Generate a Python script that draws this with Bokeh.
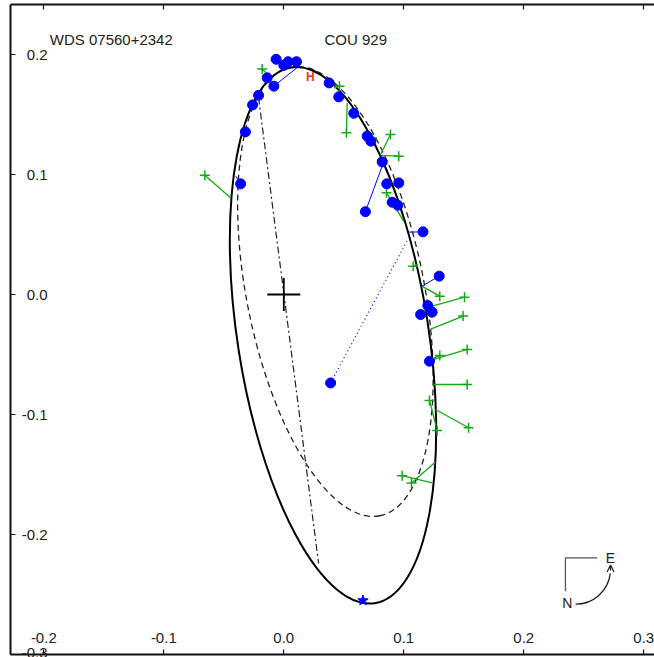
import math
from bokeh.plotting import figure
from bokeh.models import LinearAxis, FixedTicker, Arrow, OpenHead, CustomLabelingPolicy
from bokeh.embed import file_html
from bokeh.resources import INLINE
from bokeh.core.properties import value

# ---------------- axis setup ----------------
X_START, X_END = -0.22775, 0.30892
Y_START, Y_END = -0.3000, 0.24167
x_ticks = [-0.2, -0.1, 0.0, 0.1, 0.2, 0.3]
x_tick_labels = {-0.2: "-0.2", -0.1: "-0.1", 0.0: "0.0", 0.1: "0.1", 0.2: "0.2", 0.3: "0.3"}
y_ticks = [-0.3, -0.2, -0.1, 0.0, 0.1, 0.2]
y_tick_labels = {-0.3: "-0.3", -0.2: "-0.2", -0.1: "-0.1", 0.0: "0.0", 0.1: "0.1", 0.2: "0.2"}

title_left = "WDS 07560+2342"
title_right = "COU 929"

# ---------------- orbit models ----------------
orbit_cx, orbit_cy = 0.041, -0.034
orbit_major, orbit_minor = 0.4518, 0.1592
orbit_angle_deg = -81.15
prev_cx, prev_cy = 0.043, 0.0025
prev_major, prev_minor = 0.381, 0.148
prev_angle_deg = -78.8
nodes_x = [-0.021, 0.029]
nodes_y = [0.164, -0.224]
peri_x = [0.066]
peri_y = [-0.255]

# ---------------- measurements ----------------
blue_x = [-0.0064, 0.0000, 0.0036, 0.0106, -0.0139, -0.0083, -0.0210, -0.0260,
          -0.0320, -0.0360, 0.0378, 0.0458, 0.0583, 0.0695, 0.0725, 0.0820,
          0.0858, 0.0958, 0.0903, 0.0950, 0.0680, 0.1160, 0.1295, 0.1200,
          0.1236, 0.1140, 0.1214, 0.0390]
blue_y = [0.1960, 0.1910, 0.1940, 0.1940, 0.1806, 0.1736, 0.1660, 0.1580,
          0.1355, 0.0922, 0.1763, 0.1647, 0.1510, 0.1320, 0.1278, 0.1105,
          0.0922, 0.0930, 0.0769, 0.0744, 0.0690, 0.0522, 0.0153, -0.0092,
          -0.0147, -0.0167, -0.0556, -0.0737]
blue_oc_x0 = [-0.0083, -0.0360, 0.0680, 0.1160, 0.1295]
blue_oc_y0 = [0.1736, 0.0922, 0.0690, 0.0522, 0.0153]
blue_oc_x1 = [0.0110, -0.0400, 0.0820, 0.1040, 0.1150]
blue_oc_y1 = [0.1890, 0.0986, 0.1070, 0.0520, 0.0069]
outlier_x = [0.0390, 0.1033]
outlier_y = [-0.0737, 0.0458]

green_x = [-0.0658, -0.0180, 0.0464, 0.0522, 0.0889, 0.0958, 0.0736, 0.0856,
           0.1078, 0.1300, 0.1506, 0.1494, 0.1528, 0.1300, 0.1528, 0.1214,
           0.1278, 0.1540, 0.0986, 0.1064]
green_y = [0.0994, 0.1880, 0.1736, 0.1347, 0.1333, 0.1153, 0.1305, 0.0847,
           0.0236, -0.0014, -0.0022, -0.0180, -0.0458, -0.0508, -0.0750, -0.0883,
           -0.1133, -0.1110, -0.1510, -0.1570]
green_fit_x = [-0.0444, -0.0147, 0.0420, 0.0528, 0.0806, 0.0806, 0.0745, 0.1000,
               0.1110, 0.1150, 0.1236, 0.1220, 0.1250, 0.1250, 0.1250, 0.1270,
               0.1272, 0.1264, 0.1236, 0.1264]
green_fit_y = [0.0806, 0.1847, 0.1720, 0.1597, 0.1167, 0.1160, 0.1300, 0.0610,
               0.0250, 0.0070, -0.0097, -0.0290, -0.0540, -0.0530, -0.0750, -0.1100,
               -0.1120, -0.0958, -0.1570, -0.1395]

hip_x = [0.0222]
hip_y = [0.1810]

# ---------------- compass (decoration) ----------------
compass_corner = (0.2347, -0.2195)
compass_e_end = 0.2612
compass_n_end = -0.2472
compass_e_pos = (0.2722, -0.2195)
compass_n_pos = (0.2362, -0.2570)
compass_arc_c = (0.2431, -0.2289)
compass_arc_r = 0.0292

FONT = "Liberation Sans"
BLUE = "#0000ff"
GREEN = "#14a814"
INK = "#222222"

p = figure(width=654, height=657, output_backend="svg", toolbar_location=None,
           x_range=(X_START, X_END), y_range=(Y_START, Y_END),
           min_border_left=10, min_border_right=0, min_border_top=4, min_border_bottom=3,
           x_axis_location=None, y_axis_location=None)
p.outline_line_color = None
p.xgrid.visible = False
p.ygrid.visible = False


def style_axis(ax, ticks):
    ax.ticker = FixedTicker(ticks=ticks)
    ax.major_tick_in = 5
    ax.major_tick_out = 0
    ax.minor_tick_in = 0
    ax.minor_tick_out = 0
    ax.axis_line_color = "#111111"
    ax.axis_line_width = 2
    ax.major_tick_line_color = "#111111"
    ax.major_tick_line_width = 1.2
    ax.major_label_text_font = FONT
    ax.major_label_text_font_size = "15px"
    ax.major_label_text_color = INK


ax_b = LinearAxis()
style_axis(ax_b, x_ticks)
ax_b.major_label_overrides = x_tick_labels
ax_b.major_label_standoff = -22
p.add_layout(ax_b, "below")

ax_l = LinearAxis()
style_axis(ax_l, y_ticks)
ax_l.major_label_overrides = y_tick_labels
ax_l.major_label_standoff = -37
p.add_layout(ax_l, "left")

ax_t = LinearAxis()
style_axis(ax_t, x_ticks)
ax_t.major_label_text_font_size = "0px"
ax_t.major_label_standoff = 0
ax_t.major_label_policy = CustomLabelingPolicy(code="""
    const n = indices.size
    for (let i = 0; i < n; i++) { indices.unset(i) }
    return indices
""")
p.add_layout(ax_t, "above")

# titles
p.text(x=[-0.195], y=[0.2125], text=[title_left], text_font=value(FONT),
       text_font_size="15px", text_align="left", text_baseline="middle", text_color=INK)
p.text(x=[0.0339], y=[0.2125], text=[title_right], text_font=value(FONT),
       text_font_size="15px", text_align="left", text_baseline="middle", text_color=INK)

# previous orbit (dashed)
p.ellipse(x=[prev_cx], y=[prev_cy], width=[prev_major], height=[prev_minor],
          angle=[math.radians(prev_angle_deg)], fill_color=None,
          line_color="#222222", line_width=1.3, line_dash="6 4")
# line of nodes
p.line(nodes_x, nodes_y, line_color="#222222", line_width=1.2, line_dash="7 3 2 3")
# current orbit
p.ellipse(x=[orbit_cx], y=[orbit_cy], width=[orbit_major], height=[orbit_minor],
          angle=[math.radians(orbit_angle_deg)], fill_color=None,
          line_color="black", line_width=2)

# primary
p.scatter(x=[0.0], y=[0.0], marker="cross", size=33, line_color="black", line_width=1.8)

# residual lines
p.segment(x0=green_x, y0=green_y, x1=green_fit_x, y1=green_fit_y,
          line_color=GREEN, line_width=1.3)
p.segment(x0=blue_oc_x0, y0=blue_oc_y0, x1=blue_oc_x1, y1=blue_oc_y1,
          line_color=BLUE, line_width=1.0)
p.line(outlier_x, outlier_y, line_color=BLUE, line_width=1.2, line_dash="1 3")

# measures
p.scatter(x=green_x, y=green_y, marker="cross", size=10, line_color=GREEN, line_width=1.5)
p.scatter(x=blue_x, y=blue_y, marker="circle", size=10, fill_color=BLUE, line_color=BLUE)
p.text(x=hip_x, y=hip_y, text=["H"], text_font=value(FONT), text_font_size="12px",
       text_font_style="bold", text_color="#ff2a2a", text_align="center",
       text_baseline="middle")
p.scatter(x=peri_x, y=peri_y, marker="star", size=11, fill_color=BLUE, line_color=BLUE)

# compass
cx0, cy0 = compass_corner
p.line([compass_e_end, cx0, cx0], [cy0, cy0, compass_n_end], line_color="#555555", line_width=1.3)
p.text(x=[compass_e_pos[0]], y=[compass_e_pos[1]], text=["E"], text_font=value(FONT),
       text_font_size="14px", text_align="center", text_baseline="middle", text_color=INK)
p.text(x=[compass_n_pos[0]], y=[compass_n_pos[1]], text=["N"], text_font=value(FONT),
       text_font_size="14px", text_align="center", text_baseline="middle", text_color=INK)
p.arc(x=[compass_arc_c[0]], y=[compass_arc_c[1]], radius=compass_arc_r,
      start_angle=-math.pi / 2, end_angle=-0.12, line_color=INK, line_width=1.3)
p.add_layout(Arrow(end=OpenHead(size=7, line_color=INK, line_width=1.3),
                   x_start=compass_arc_c[0] + compass_arc_r, y_start=compass_arc_c[1] - 0.001,
                   x_end=compass_arc_c[0] + compass_arc_r, y_end=compass_arc_c[1] + 0.0035,
                   line_color=INK, line_width=1.3))

open("out.html", "w").write(file_html(p, INLINE))
